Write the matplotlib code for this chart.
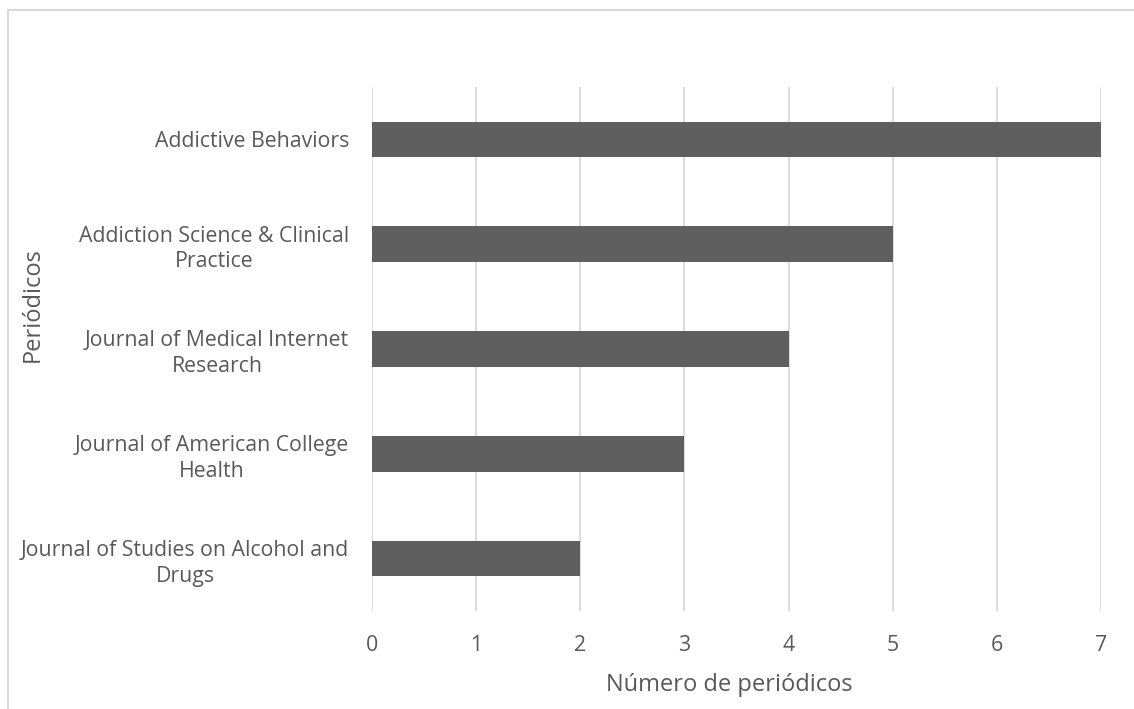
import matplotlib.pyplot as plt
from matplotlib.lines import Line2D

journals = [
    "Journal of Studies on Alcohol and\nDrugs",
    "Journal of American College\nHealth",
    "Journal of Medical Internet\nResearch",
    "Addiction Science & Clinical\nPractice",
    "Addictive Behaviors",
]
counts = [2, 3, 4, 5, 7]
x_ticks = [0, 1, 2, 3, 4, 5, 6, 7]

text_color = "#595959"
bar_color = "#5f5f5f"
grid_color = "#d9d9d9"

plt.rcParams["font.family"] = ["Open Sans", "DejaVu Sans"]

fig = plt.figure(figsize=(11.34, 7.09), dpi=100)
W, H = 1134, 709
ax = fig.add_axes([372 / W, 1 - 611 / H, (1101 - 372) / W, (611 - 87) / H])

ypos = list(range(len(journals)))
ax.barh(ypos, counts, height=0.34, color=bar_color, zorder=3)

ax.set_xlim(0, 7)
ax.set_ylim(-0.5, len(journals) - 0.5)
ax.set_xticks(x_ticks)
ax.set_xticklabels([str(t) for t in x_ticks])
ax.set_yticks(ypos)
ax.set_yticklabels(journals, multialignment="center", linespacing=1.3)

ax.grid(axis="x", color=grid_color, linewidth=1.3, zorder=0)
for s in ax.spines.values():
    s.set_visible(False)
ax.tick_params(axis="both", length=0, colors=text_color, labelsize=15.3)
ax.tick_params(axis="y", pad=16.5)
ax.tick_params(axis="x", pad=17)

ax.set_xlabel("Número de periódicos", fontsize=17, color=text_color)
ax.xaxis.set_label_coords(0.49, -0.118)
ax.set_ylabel("Periódicos", fontsize=17, color=text_color)
ax.yaxis.set_label_coords(-0.449, 0.584)

# outer chart border (partly cropped in the original)
fig.add_artist(Line2D([8 / W, 1], [1 - 10 / H, 1 - 10 / H], color=grid_color, linewidth=1.5))
fig.add_artist(Line2D([8 / W, 8 / W], [0, 1 - 10 / H], color=grid_color, linewidth=1.5))

fig.savefig("out.png", dpi=100)
